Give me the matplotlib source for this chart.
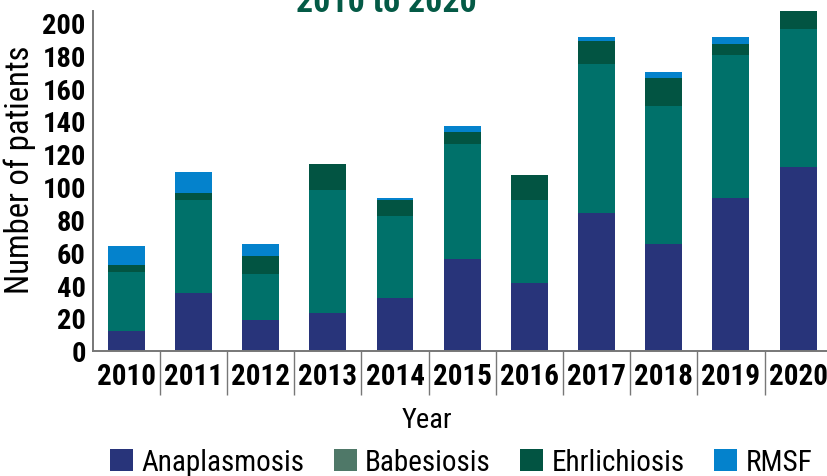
import matplotlib
matplotlib.use("Agg")
import matplotlib.pyplot as plt
from matplotlib.patches import Patch
import numpy as np

years = ["2010", "2011", "2012", "2013", "2014", "2015", "2016", "2017", "2018", "2019", "2020"]
anaplasmosis = [12, 35, 19, 23, 32, 56, 41, 84, 65, 93, 112]
babesiosis = [36, 57, 28, 75, 50, 70, 51, 91, 84, 87, 84]
ehrlichiosis = [4, 4, 11, 16, 10, 7, 15, 14, 17, 7, 11]
rmsf = [12, 13, 7, 0, 1, 4, 0, 2, 4, 4, 0]
series_names = ["Anaplasmosis", "Babesiosis", "Ehrlichiosis", "RMSF"]
yticks = [0, 20, 40, 60, 80, 100, 120, 140, 160, 180, 200]

bar_colors = ["#28347A", "#00716A", "#025442", "#0482CC"]
legend_colors = ["#28347A", "#4F7868", "#025442", "#0482CC"]

COND = ["Roboto Condensed", "Pragati Narrow", "Archivo Narrow", "DejaVu Sans"]

fig = plt.figure(figsize=(8.27, 4.77), dpi=100)
W, H = 827, 477
left = 92.7 / W
bottom = (H - 351.7) / H
top = (H - 12) / H
ax = fig.add_axes([left, bottom, 739 / W, top - bottom])

x = np.arange(len(years))
base = np.zeros(len(years))
for vals, col in zip([anaplasmosis, babesiosis, ehrlichiosis, rmsf], bar_colors):
    ax.bar(x, vals, width=0.55, bottom=base, color=col, linewidth=0)
    base += np.array(vals)

ax.set_xlim(-0.5, 10.5)
ax.set_ylim(0, 207)
ax.set_yticks(yticks)
ax.set_yticklabels([str(v) for v in yticks], family=COND, fontweight="bold", fontsize=20.5)
ax.tick_params(axis="y", length=0, pad=5)
ax.set_xticks(x)
ax.set_xticklabels(years, family=COND, fontweight="bold", fontsize=21)
ax.tick_params(axis="x", which="major", length=0, pad=8)
ax.set_xticks(np.arange(0.5, 10, 1), minor=True)
ax.tick_params(axis="x", which="minor", length=32, width=1.0, color="#777777", direction="out")

for s in ["top", "right"]:
    ax.spines[s].set_visible(False)
for s in ["left", "bottom"]:
    ax.spines[s].set_color("#777777")
    ax.spines[s].set_linewidth(1.4)

fig.text(20 / W, 1 - 169.5 / H, "Number of patients", rotation=90, ha="center", va="center",
         family=COND, fontsize=23.5)
fig.text(427 / W, 1 - 421 / H, "Year", ha="center", va="center", family=COND, fontsize=20.5)
fig.text(386.5 / W, 1 - 12.5 / H, "2010 to 2020", ha="center", va="baseline", family=COND,
         fontweight="bold", fontsize=24.5, color="#045A46")

handles = [Patch(facecolor=c, edgecolor="none", label=n) for c, n in zip(legend_colors, series_names)]
fig.legend(handles=handles, loc="center", bbox_to_anchor=(461 / W, 1 - 463 / H), ncol=4,
           frameon=False, prop={"family": COND, "size": 21}, handlelength=0.8, handleheight=0.8,
           handletextpad=0.28, columnspacing=1.0, borderpad=0, borderaxespad=0)

fig.savefig("out.png", dpi=100)
